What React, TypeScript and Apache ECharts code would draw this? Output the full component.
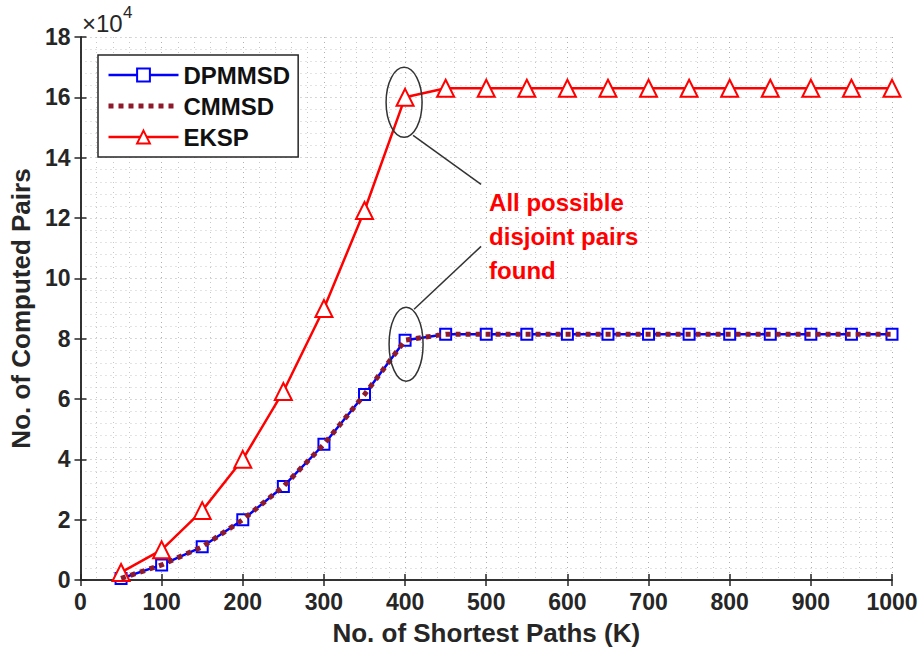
import React, { useEffect, useRef } from "react";
import * as echarts from "echarts";

const kValues = [50, 100, 150, 200, 250, 300, 350, 400, 450, 500, 550, 600, 650, 700, 750, 800, 850, 900, 950, 1000];
const dpmmsd = [500, 5000, 11000, 20000, 31000, 45000, 61500, 79500, 81500, 81500, 81500, 81500, 81500, 81500, 81500, 81500, 81500, 81500, 81500, 81500];
const cmmsd = [500, 5000, 11000, 20000, 31000, 45000, 61500, 79500, 81500, 81500, 81500, 81500, 81500, 81500, 81500, 81500, 81500, 81500, 81500, 81500];
const eksp = [2500, 10000, 23000, 40000, 62500, 90000, 122500, 160000, 163000, 163000, 163000, 163000, 163000, 163000, 163000, 163000, 163000, 163000, 163000, 163000];
const annotationText = ["All possible", "disjoint pairs", "found"];

const FONT = "'Liberation Sans', Arial, Helvetica, sans-serif";
const AXIS_COLOR = "#262626";
const CM_COLOR = "#8e1a2c";

function pairs(ys: number[]) {
  return kValues.map((x, i) => [x, ys[i]]);
}

export default function App() {
  const ref = useRef<HTMLDivElement>(null);
  useEffect(() => {
    if (!ref.current) return;
    const chart = echarts.init(ref.current, undefined, { renderer: "svg" });
    const grid = { left: 79, top: 37, right: 31, bottom: 77 };
    const axisCommon = {
      axisLine: { show: true, lineStyle: { color: AXIS_COLOR, width: 1.5 } },
      axisTick: { show: true, inside: true, length: 6, lineStyle: { color: AXIS_COLOR, width: 1.5 } },
    };
    const majorGrid = { show: true, lineStyle: { color: "#b0b0b0", type: [1, 4], width: 1 } };
    const minorGrid = { show: true, lineStyle: { color: "#c8c8c8", type: [1, 4], width: 1 } };
    const cmDash = [5, 5];
    chart.setOption({
      animation: false,
      backgroundColor: "#ffffff",
      grid: { ...grid, show: true, backgroundColor: "#ffffff", borderWidth: 0 },
      legend: {
        orient: "vertical",
        left: 98,
        top: 55,
        backgroundColor: "#ffffff",
        borderColor: AXIS_COLOR,
        borderWidth: 1.5,
        borderRadius: 0,
        padding: [8, 8, 8, 8],
        itemWidth: 70,
        itemHeight: 16,
        itemGap: 7,
        textStyle: { fontFamily: FONT, fontWeight: "bold", fontSize: 24, color: "#111" },
        data: [
          { name: "DPMMSD", lineStyle: { width: 2.5 } },
          { name: "CMMSD", itemStyle: { opacity: 0 }, lineStyle: { width: 5, type: cmDash, color: CM_COLOR } },
          { name: "EKSP", lineStyle: { width: 2.5 } },
        ],
      },
      xAxis: [
        {
          type: "value",
          min: 0,
          max: 1000,
          interval: 100,
          position: "bottom",
          name: "No. of Shortest Paths (K)",
          nameLocation: "middle",
          nameGap: 40,
          nameTextStyle: { fontFamily: FONT, fontWeight: "bold", fontSize: 26, color: AXIS_COLOR },
          ...axisCommon,
          axisLabel: {
            fontFamily: FONT,
            fontWeight: "bold",
            fontSize: 23,
            color: AXIS_COLOR,
            margin: 10,
            formatter: (v: number) => String(v),
          },
          splitLine: majorGrid,
          minorTick: { show: false, splitNumber: 5 },
          minorSplitLine: minorGrid,
        },
        {
          type: "value",
          min: 0,
          max: 1000,
          interval: 100,
          position: "top",
          ...axisCommon,
          axisLabel: { show: false },
          splitLine: { show: false },
        },
      ],
      yAxis: [
        {
          type: "value",
          min: 0,
          max: 180000,
          interval: 20000,
          position: "left",
          name: "No. of Computed Pairs",
          nameLocation: "middle",
          nameGap: 44,
          nameTextStyle: { fontFamily: FONT, fontWeight: "bold", fontSize: 26, color: AXIS_COLOR },
          ...axisCommon,
          axisLabel: {
            fontFamily: FONT,
            fontWeight: "bold",
            fontSize: 23,
            color: AXIS_COLOR,
            margin: 10,
            formatter: (v: number) => String(v / 10000),
          },
          splitLine: majorGrid,
          minorTick: { show: false, splitNumber: 5 },
          minorSplitLine: minorGrid,
        },
        {
          type: "value",
          min: 0,
          max: 180000,
          interval: 20000,
          position: "right",
          ...axisCommon,
          axisLabel: { show: false },
          splitLine: { show: false },
        },
      ],
      series: [
        {
          name: "DPMMSD",
          type: "line",
          data: pairs(dpmmsd),
          symbol: "emptyRect",
          symbolSize: 11,
          lineStyle: { color: "#0000ff", width: 2.5 },
          itemStyle: { color: "#0000ff", borderColor: "#0000ff", borderWidth: 1.5 },
          z: 2,
        },
        {
          name: "CMMSD",
          type: "line",
          data: pairs(cmmsd),
          symbol: "none",
          showSymbol: false,
          lineStyle: { color: CM_COLOR, width: 5, type: cmDash, cap: "butt" },
          itemStyle: { color: CM_COLOR },
          z: 6,
        },
        {
          name: "EKSP",
          type: "line",
          data: pairs(eksp),
          symbol: "emptyTriangle",
          symbolSize: 17,
          lineStyle: { color: "#ff0000", width: 2.5 },
          itemStyle: { color: "#ff0000", borderColor: "#ff0000", borderWidth: 2 },
          z: 5,
        },
      ],
    });

    const p1 = chart.convertToPixel({ xAxisIndex: 0, yAxisIndex: 0 }, [kValues[7], eksp[7]]) as number[];
    const p2 = chart.convertToPixel({ xAxisIndex: 0, yAxisIndex: 0 }, [kValues[7], dpmmsd[7]]) as number[];
    const e1 = { cx: p1[0] - 1, cy: p1[1] + 5, rx: 18, ry: 35 };
    const e2 = { cx: p2[0] + 1, cy: p2[1] + 4, rx: 17, ry: 37 };
    const textX = p1[0] + 84;
    const textY = p1[1] + 88;
    const grey = "#333333";

    chart.setOption({
      graphic: [
        {
          type: "text",
          x: 82,
          y: 11,
          style: { text: "×10", fontFamily: FONT, fontSize: 24, fill: AXIS_COLOR },
          z: 10,
        },
        {
          type: "text",
          x: 123,
          y: 4,
          style: { text: "4", fontFamily: FONT, fontSize: 17, fill: AXIS_COLOR },
          z: 10,
        },
        {
          type: "ellipse",
          shape: e1,
          style: { fill: "none", stroke: grey, lineWidth: 1.5 },
          z: 10,
        },
        {
          type: "ellipse",
          shape: e2,
          style: { fill: "none", stroke: grey, lineWidth: 1.5 },
          z: 10,
        },
        {
          type: "line",
          shape: { x1: e1.cx + 9, y1: e1.cy + e1.ry - 2, x2: textX - 8, y2: textY - 1 },
          style: { stroke: grey, lineWidth: 1.5 },
          z: 10,
        },
        {
          type: "line",
          shape: { x1: textX - 8, y1: textY + 61, x2: e2.cx + 8, y2: e2.cy - e2.ry + 2 },
          style: { stroke: grey, lineWidth: 1.5 },
          z: 10,
        },
        {
          type: "text",
          x: textX,
          y: textY,
          style: {
            text: annotationText.join("\n"),
            fontFamily: FONT,
            fontWeight: "bold",
            fontSize: 24,
            lineHeight: 34,
            fill: "#ff0000",
            verticalAlign: "top",
          },
          z: 10,
        },
      ],
    });

    return () => chart.dispose();
  }, []);
  return (
    <div
      ref={ref}
      style={{ position: "fixed", left: 0, top: 0, width: 923, height: 657 }}
    />
  );
}
